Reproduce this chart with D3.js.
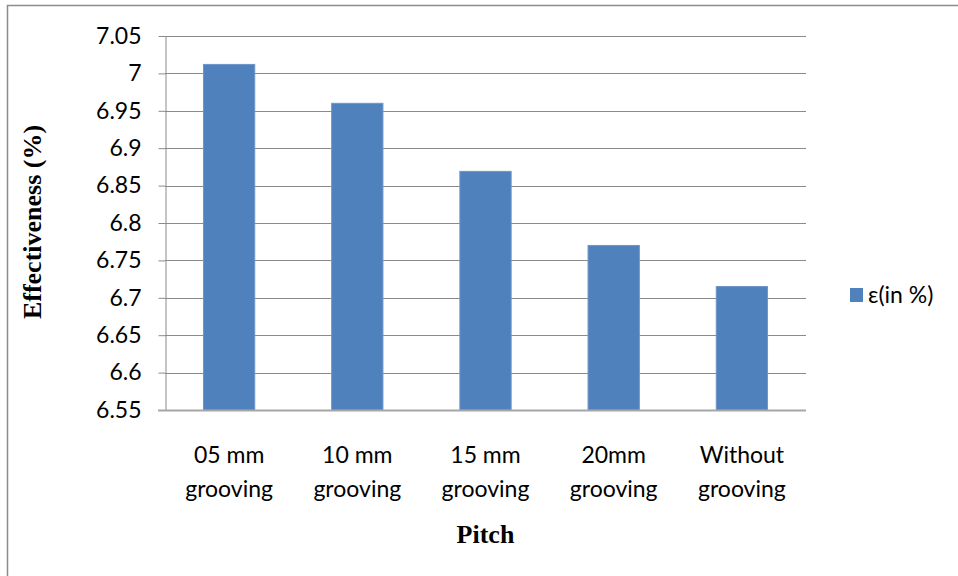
<!DOCTYPE html>
<html>
<head>
<meta charset="utf-8">
<script src="https://cdn.jsdelivr.net/npm/d3@7"></script>
<style>
  html, body { margin: 0; padding: 0; background: #fff; }
  svg { display: block; }
</style>
</head>
<body>
<svg id="chart" width="958" height="576"></svg>
<script>
// Effectiveness by groove pitch
const categories = [["05 mm", "grooving"], ["10 mm", "grooving"], ["15 mm", "grooving"], ["20mm", "grooving"], ["Without", "grooving"]];
const effectiveness = [7.012, 6.96, 6.869, 6.77, 6.715];
const yTicks = [6.55, 6.6, 6.65, 6.7, 6.75, 6.8, 6.85, 6.9, 6.95, 7, 7.05];
const seriesName = "\u03b5(in %)";

const svg = d3.select("#chart");
const plot = { left: 165, right: 806, top: 36, bottom: 410 };
const labelFont = "Lato, 'Open Sans', sans-serif";
const titleFont = "'Liberation Serif', 'DejaVu Serif', serif";
const barColor = "#4f81bd";

// outer frame
svg.append("rect")
  .attr("x", 7.5).attr("y", 5.5)
  .attr("width", 1000).attr("height", 600)
  .attr("fill", "none").attr("stroke", "#8c8c8c").attr("stroke-width", 1.5);

const x = d3.scaleBand()
  .domain(d3.range(categories.length))
  .range([plot.left, plot.right])
  .paddingInner(0.6).paddingOuter(0.3);

const y = d3.scaleLinear().domain([6.55, 7.05]).range([plot.bottom, plot.top]);

// gridlines
svg.append("g")
  .selectAll("line")
  .data(yTicks.slice(1))
  .join("line")
  .attr("x1", plot.left).attr("x2", plot.right)
  .attr("y1", d => Math.round(y(d)) + 0.5).attr("y2", d => Math.round(y(d)) + 0.5)
  .attr("stroke", "#8a8a8a").attr("stroke-width", 1);

// y axis with short outward ticks
const yAxis = svg.append("g")
  .attr("transform", `translate(${plot.left + 0.5},0)`)
  .call(d3.axisLeft(y).tickValues(yTicks).tickFormat(d => String(+d.toFixed(2))).tickSizeInner(7).tickSizeOuter(0).tickPadding(17));
yAxis.select(".domain").attr("stroke", "#8a8a8a");
yAxis.selectAll(".tick line").attr("stroke", "#8a8a8a");
yAxis.selectAll("text")
  .attr("font-family", labelFont).attr("font-size", 23).attr("fill", "#000");

// bars
svg.append("g")
  .selectAll("rect")
  .data(effectiveness)
  .join("rect")
  .attr("x", (d, i) => x(i))
  .attr("width", x.bandwidth())
  .attr("y", d => y(d))
  .attr("height", d => plot.bottom - y(d))
  .attr("fill", barColor)
  .attr("stroke", "#6d95c9").attr("stroke-width", 1);

// baseline
svg.append("line")
  .attr("x1", plot.left - 7).attr("x2", plot.right)
  .attr("y1", plot.bottom + 0.5).attr("y2", plot.bottom + 0.5)
  .attr("stroke", "#a6a6a6").attr("stroke-width", 2);

// category labels
const step = (plot.right - plot.left) / categories.length;
const catG = svg.append("g");
categories.forEach((lines, i) => {
  const cx = plot.left + step * (i + 0.5);
  const t = catG.append("text")
    .attr("x", cx).attr("y", 463)
    .attr("text-anchor", "middle")
    .attr("font-family", labelFont).attr("font-size", 23).attr("fill", "#000");
  lines.forEach((ln, j) => {
    t.append("tspan").attr("x", cx).attr("dy", j === 0 ? 0 : 34).text(ln);
  });
});

// axis titles
svg.append("text")
  .attr("x", plot.left + (plot.right - plot.left) / 2).attr("y", 543)
  .attr("text-anchor", "middle")
  .attr("font-family", titleFont)
  .attr("font-weight", "bold").attr("font-size", 26)
  .text("Pitch");

svg.append("text")
  .attr("transform", "translate(41,222) rotate(-90)")
  .attr("text-anchor", "middle")
  .attr("font-family", titleFont)
  .attr("font-weight", "bold").attr("font-size", 26)
  .text("Effectiveness (%)");

// legend
const legend = svg.append("g").attr("transform", "translate(850,288)");
legend.append("rect").attr("width", 13).attr("height", 14).attr("fill", barColor);
legend.append("text")
  .attr("x", 18).attr("y", 15)
  .attr("font-family", labelFont).attr("font-size", 23).attr("fill", "#000")
  .text(seriesName);
</script>
</body>
</html>
